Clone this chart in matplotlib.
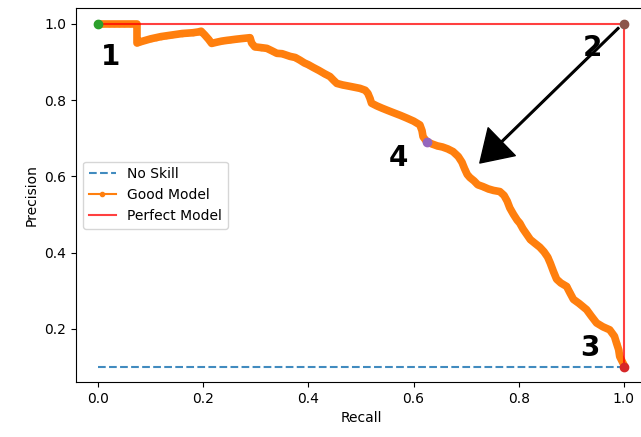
import matplotlib
matplotlib.use("Agg")
import matplotlib.pyplot as plt

# ---- data ----
no_skill_recall = [0.0, 1.0]
no_skill_precision = [0.1, 0.1]

good_recall = [
    0.000, 0.010, 0.020, 0.030, 0.040, 0.050, 0.060, 0.070, 0.074,
    0.074, 0.080, 0.090, 0.100, 0.110, 0.120, 0.130, 0.140, 0.150, 0.160,
    0.170, 0.180, 0.190, 0.196, 0.203, 0.210, 0.216, 0.225, 0.235, 0.245,
    0.251, 0.262, 0.275, 0.289, 0.292, 0.298, 0.310, 0.321, 0.330, 0.340,
    0.350, 0.365, 0.375, 0.384, 0.392, 0.400, 0.409, 0.420, 0.430, 0.441,
    0.448, 0.454, 0.465, 0.480, 0.498, 0.508, 0.513, 0.517, 0.520, 0.530,
    0.540, 0.549, 0.560, 0.575, 0.587, 0.600, 0.612, 0.616, 0.618, 0.625,
    0.635, 0.645, 0.655, 0.665, 0.675, 0.685, 0.692, 0.697, 0.702, 0.707,
    0.715, 0.722, 0.732, 0.742, 0.752, 0.764, 0.772, 0.778, 0.783, 0.790,
    0.797, 0.802, 0.808, 0.815, 0.822, 0.830, 0.840, 0.848, 0.855, 0.860,
    0.866, 0.872, 0.880, 0.891, 0.897, 0.904, 0.915, 0.929, 0.938, 0.948,
    0.960, 0.973, 0.982, 0.986, 0.990, 0.992, 1.000,
]
good_precision = [
    1.000, 1.000, 1.000, 1.000, 1.000, 1.000, 1.000, 1.000, 1.000,
    0.950, 0.953, 0.957, 0.961, 0.964, 0.967, 0.969, 0.971, 0.973, 0.975,
    0.976, 0.977, 0.979, 0.981, 0.971, 0.960, 0.949, 0.952, 0.955, 0.957,
    0.958, 0.960, 0.962, 0.964, 0.950, 0.940, 0.938, 0.936, 0.930, 0.923,
    0.922, 0.915, 0.912, 0.905, 0.898, 0.893, 0.886, 0.878, 0.870, 0.862,
    0.852, 0.844, 0.840, 0.836, 0.831, 0.826, 0.818, 0.805, 0.792, 0.785,
    0.779, 0.774, 0.768, 0.760, 0.753, 0.745, 0.735, 0.720, 0.704, 0.691,
    0.685, 0.680, 0.677, 0.672, 0.665, 0.652, 0.637, 0.620, 0.605, 0.597,
    0.588, 0.578, 0.573, 0.567, 0.563, 0.560, 0.550, 0.535, 0.517, 0.500,
    0.485, 0.477, 0.462, 0.448, 0.434, 0.425, 0.414, 0.402, 0.388, 0.372,
    0.350, 0.330, 0.320, 0.311, 0.295, 0.277, 0.266, 0.250, 0.233, 0.215,
    0.205, 0.197, 0.180, 0.162, 0.145, 0.127, 0.105,
]

perfect_recall = [0.0, 1.0, 1.0]
perfect_precision = [1.0, 1.0, 0.1]

point_recall = [0.0, 1.0, 0.625, 1.0]
point_precision = [1.0, 0.1, 0.691, 1.0]
point_colors = ["C2", "C3", "C4", "C5"]

label_text = ["1", "2", "3", "4"]
label_recall = [0.023, 0.941, 0.935, 0.572]
label_precision = [0.913, 0.937, 0.150, 0.649]

arrow_start = (0.99, 0.99)
arrow_end = (0.726, 0.635)

# ---- figure ----
fig = plt.figure(figsize=(6.41, 4.37), dpi=100)
ax = fig.add_axes([76 / 641, (437 - 382) / 437, 570 / 641, 374 / 437])

ax.plot(no_skill_recall, no_skill_precision, linestyle="--", color="C0",
        alpha=0.85, label="No Skill")
# dense marker trail (the thick band of the curve)
ax.plot(good_recall, good_precision, color="C1", linewidth=5.5,
        solid_joinstyle="round", solid_capstyle="round")
ax.plot(good_recall, good_precision, marker=".", color="C1", label="Good Model")
ax.plot(perfect_recall, perfect_precision, "r", alpha=0.75, label="Perfect Model")

for r, p, c in zip(point_recall, point_precision, point_colors):
    ax.plot([r], [p], "o", color=c)

for t, r, p in zip(label_text, label_recall, label_precision):
    ax.text(r, p, t, fontsize=20, fontweight="bold", ha="center", va="center")

ax.annotate("", xy=arrow_end, xytext=arrow_start,
            arrowprops=dict(facecolor="black", edgecolor="black", width=1.2,
                            headwidth=28, headlength=22, shrink=0.0))

ax.set_xlim(-0.042, 1.042)
ax.set_ylim(0.06, 1.042)
ax.set_xlabel("Recall")
ax.set_ylabel("Precision")
ax.legend(loc="center left")

fig.savefig("out.png", dpi=100)
